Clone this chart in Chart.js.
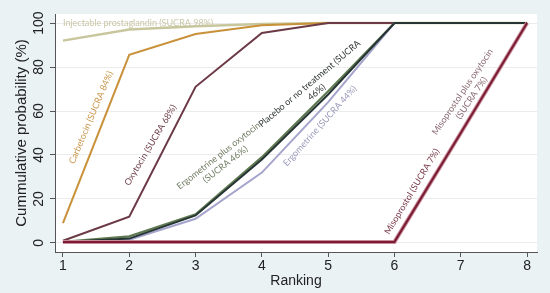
<!DOCTYPE html>
<html>
<head>
<meta charset="utf-8">
<script src="https://cdn.jsdelivr.net/npm/chart.js@4/dist/chart.umd.min.js"></script>
<style>
html,body{margin:0;padding:0;background:#eaf2f3;}
#c{display:block;}
</style>
</head>
<body>
<canvas id="c" width="550" height="293"></canvas>
<script>
// ---- data ----
const rankings = [1, 2, 3, 4, 5, 6, 7, 8];
const xTickValues = [1, 2, 3, 4, 5, 6, 7, 8];
const yTickValues = [0, 20, 40, 60, 80, 100];

const injectableProstaglandin = [92, 97, 98.5, 99.5, 100, 100, 100, 100];
const carbetocin              = [9, 85.5, 95, 99, 100, 100, 100, 100];
const oxytocin                = [1, 12, 71, 95.5, 100, 100, 100, 100];
const ergometrinePlusOxytocin = [0.5, 3, 13, 39, 69, 100, 100, 100];
const placeboNoTreatment      = [0.5, 2, 12.5, 38, 67.5, 100, 100, 100];
const ergometrine             = [0.5, 1.5, 11, 32, 64, 100, 100, 100];
const misoprostol             = [0.5, 0.5, 0.5, 0.5, 0.5, 0.5, 50, 100];
const misoprostolPlusOxytocin = [0.5, 0.5, 0.5, 0.5, 0.5, 0.5, 50, 100];

const seriesNames = [
  'Injectable prostaglandin (SUCRA 98%)',
  'Carbetocin (SUCRA 84%)',
  'Oxytocin (SUCRA 68%)',
  'Ergometrine plus oxytocin (SUCRA 46%)',
  'Placebo or no treatment (SUCRA 46%)',
  'Ergometrine (SUCRA 44%)',
  'Misoprostol plus oxytocin (SUCRA 7%)',
  'Misoprostol (SUCRA 7%)'
];

// ---- styles / label placement (not data) ----
const FONT = 'Liberation Sans, Arial, sans-serif';
const LABEL_FONT = 'Lato, "Open Sans", sans-serif';

const lineLabels = [
  {lines: ['Injectable prostaglandin (SUCRA 98%)'], x: 1, y: 100, angle: 0, color: '#c9c6a6', align: 'left'},
  {lines: ['Carbetocin (SUCRA 84%)'], x: 1.422, y: 57.0, angle: -67, color: '#c9964a'},
  {lines: ['Oxytocin (SUCRA 68%)'], x: 2.320, y: 44.5, angle: -59, color: '#6e3f4a'},
  {lines: ['Ergometrine plus oxytocin', '(SUCRA 46%)'], x: 3.398, y: 37.7, angle: -38, color: '#6f7d62'},
  {lines: ['Placebo or no treatment (SUCRA', '46%)'], x: 4.771, y: 70.5, angle: -40, color: '#2e3434'},
  {lines: ['Ergometrine (SUCRA 44%)'], x: 4.876, y: 53.2, angle: -48, color: '#9c9cbc'},
  {lines: ['Misoprostol plus oxytocin', '(SUCRA 7%)'], x: 7.094, y: 67.3, angle: -56, color: '#8a6a72'},
  {lines: ['Misoprostol (SUCRA 7%)'], x: 6.264, y: 23.4, angle: -59, color: '#7a3a4a'}
];

function ds(label, data, color, width, order) {
  return {label, data, borderColor: color, borderWidth: width, pointRadius: 0,
          tension: 0, fill: false, order};
}

const datasets = [
  ds(seriesNames[0], injectableProstaglandin, '#c8c69c', 2.5, 8),
  ds(seriesNames[1], carbetocin, '#c8913a', 2, 7),
  ds(seriesNames[2], oxytocin, '#6c3a46', 2, 6),
  ds(seriesNames[5], ergometrine, '#a4a4cc', 2, 5),
  ds(seriesNames[3], ergometrinePlusOxytocin, '#5f7a52', 2.2, 4),
  ds(seriesNames[4], placeboNoTreatment, '#263434', 2, 3),
  ds(seriesNames[6], misoprostolPlusOxytocin, '#c98c9a', 4, 2),
  ds(seriesNames[7], misoprostol, '#7a1c33', 2, 1)
];

const bgPlugin = {
  id: 'bg',
  beforeDraw(chart) {
    const ctx = chart.ctx, a = chart.chartArea;
    ctx.save();
    ctx.fillStyle = '#eaf2f3';
    ctx.fillRect(0, 0, chart.width, chart.height);
    ctx.fillStyle = '#ffffff';
    ctx.fillRect(a.left, a.top, a.right - a.left, a.bottom - a.top);
    ctx.restore();
  }
};

const textPlugin = {
  id: 'texts',
  afterDraw(chart) {
    const ctx = chart.ctx, a = chart.chartArea;
    const xs = chart.scales.x, ys = chart.scales.y;
    ctx.save();
    // y tick labels, rotated
    ctx.fillStyle = '#222';
    ctx.font = '14px ' + FONT;
    ctx.textAlign = 'center';
    ctx.textBaseline = 'middle';
    ys.ticks.forEach(t => {
      const py = ys.getPixelForValue(t.value);
      ctx.save();
      ctx.translate(39, py);
      ctx.rotate(-Math.PI / 2);
      ctx.fillText(String(t.value), 0, 0);
      ctx.restore();
    });
    // axis titles
    ctx.save();
    ctx.font = '15px ' + FONT;
    ctx.translate(22, (a.top + a.bottom) / 2);
    ctx.rotate(-Math.PI / 2);
    ctx.fillText('Cummulative probability (%)', 0, 0);
    ctx.restore();
    ctx.fillText('Ranking', (a.left + a.right) / 2, 281);

    // line labels
    ctx.font = '9px ' + LABEL_FONT;
    lineLabels.forEach(l => {
      const px = xs.getPixelForValue(l.x), py = ys.getPixelForValue(l.y);
      ctx.save();
      ctx.translate(px, py);
      ctx.rotate(l.angle * Math.PI / 180);
      ctx.fillStyle = l.color;
      ctx.textAlign = l.align || 'center';
      ctx.textBaseline = 'middle';
      const lh = 11;
      const n = l.lines.length;
      l.lines.forEach((s, i) => {
        ctx.fillText(s, 0, (i - (n - 1) / 2) * lh);
      });
      ctx.restore();
    });
    ctx.restore();
  }
};

new Chart(document.getElementById('c'), {
  type: 'line',
  data: {
    labels: rankings,
    datasets: datasets.map(d => Object.assign(d, {data: d.data.map((v, i) => ({x: rankings[i], y: v}))}))
  },
  options: {
    responsive: false,
    devicePixelRatio: 1,
    animation: false,
    events: [],
    layout: {padding: {left: 0, top: 14, right: 13, bottom: 0}},
    plugins: {legend: {display: false}, tooltip: {enabled: false}, title: {display: false}},
    scales: {
      x: {
        type: 'linear',
        min: 0.88, max: 8.15,
        afterBuildTicks: s => { s.ticks = xTickValues.map(v => ({value: v})); },
        afterFit: s => { s.height = 41; },
        grid: {drawOnChartArea: false, drawTicks: true, tickLength: 5, tickColor: '#555', tickWidth: 1},
        border: {display: true, color: '#555', width: 1},
        ticks: {font: {family: FONT, size: 14}, color: '#222', padding: 1, maxRotation: 0,
                callback: v => String(v)}
      },
      y: {
        type: 'linear',
        min: -4.1, max: 104.1,
        afterBuildTicks: s => { s.ticks = yTickValues.map(v => ({value: v})); },
        afterFit: s => { s.width = 55; },
        grid: {drawOnChartArea: true, color: '#ececec', drawTicks: true, tickLength: 5, tickColor: '#555', tickWidth: 1},
        border: {display: true, color: '#555', width: 1},
        ticks: {display: false}
      }
    }
  },
  plugins: [bgPlugin, textPlugin]
});
</script>
</body>
</html>
